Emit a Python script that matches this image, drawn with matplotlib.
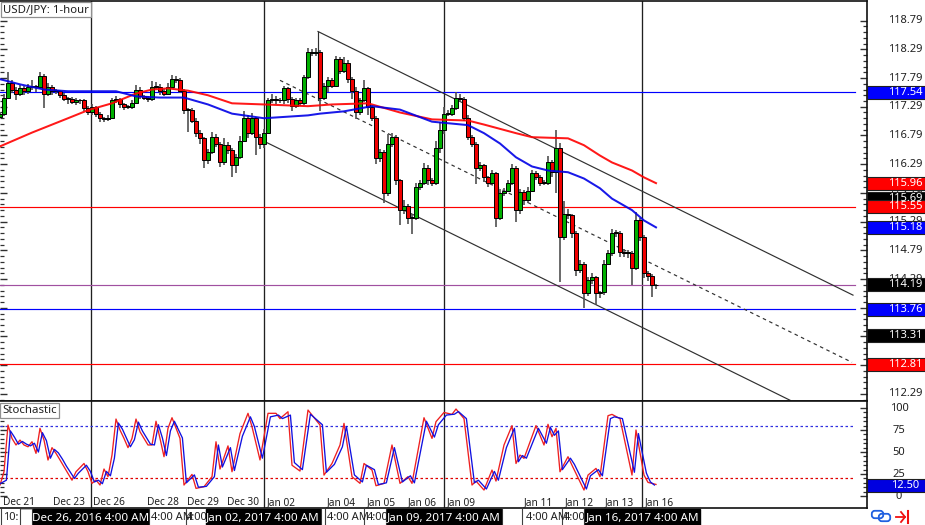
import matplotlib
matplotlib.use("Agg")
import matplotlib.pyplot as plt
import numpy as np
from matplotlib.patches import Rectangle, FancyBboxPatch

plt.rcParams['font.family'] = ['Noto Sans', 'DejaVu Sans']

W, H = 925, 525
PX = 4.0  # pixels per bar

closes = [117.17,117.45,117.70,117.59,117.52,117.61,117.56,117.64,117.63,117.63,
 117.82,117.52,117.64,117.56,117.56,117.49,117.43,117.42,117.38,117.40,
 117.40,117.26,117.19,117.28,117.17,117.09,117.07,117.10,117.40,117.42,
 117.33,117.28,117.28,117.36,117.59,117.47,117.45,117.42,117.64,117.64,
 117.56,117.52,117.64,117.78,117.75,117.57,117.23,117.23,117.05,116.83,
 116.74,116.36,116.50,116.76,116.65,116.32,116.62,116.53,116.27,116.41,
 116.70,117.10,116.83,117.09,116.76,116.65,116.84,117.40,117.43,117.40,
 117.40,117.61,117.43,117.31,117.40,117.35,117.80,118.24,118.22,118.24,
 117.45,117.66,117.75,117.66,118.13,117.92,118.06,117.78,117.57,117.19,
 117.40,117.61,117.28,117.10,116.39,116.50,115.78,116.65,116.76,116.01,
 115.49,115.57,115.36,115.36,115.89,115.96,116.23,116.01,115.97,116.58,
 116.88,117.17,117.17,117.26,117.45,117.43,117.10,116.76,116.65,116.23,
 116.27,116.06,115.96,116.13,115.36,115.78,115.83,115.96,116.22,115.49,
 115.80,115.66,115.83,116.13,116.06,115.97,115.96,116.32,116.15,116.58,
 115.02,115.43,115.40,115.09,114.44,114.56,114.04,114.27,114.32,114.04,
 114.06,114.56,114.74,115.10,115.09,114.76,114.74,114.74,114.49,115.31,
 115.02,114.39,114.35,114.18,114.18]
upper_pips = [3,6,19,5,4,6,4,5,12,4, 7,4,6,3,4,3,4,3,4,5, 3,3,4,5,3,3,3,4,5,6,
 3,3,4,5,8,4,3,3,10,8, 4,4,6,7,5,4,3,4,3,4, 5,3,5,9,5,3,12,5,4,5,
 8,12,5,9,3,5,6,5,9,4, 5,5,3,3,5,4,5,8,6,8, 3,5,6,4,5,3,9,5,3,6,
 5,14,3,4,3,5,3,17,8,3, 3,10,3,6,7,5,8,5,4,12, 14,12,6,6,9,6,3,4,3,3,
 5,3,3,6,3,8,5,6,7,3, 5,4,6,6,5,4,5,12,4,30, 8,22,8,3,3,7,3,5,8,3,
 3,6,5,7,4,3,5,5,3,14, 5,3,4,3,3]
lower_pips = [3,4,3,6,12,5,6,4,4,8, 3,26,4,6,5,5,4,8,5,6, 6,4,5,4,5,6,4,3,3,4,
 6,4,3,3,3,5,5,4,3,4, 6,5,3,3,4,4,6,38,5,6, 9,14,6,3,6,8,4,6,21,14,
 3,3,8,4,31,9,8,3,5,7, 5,6,8,9,4,5,3,3,5,4, 23,4,12,5,3,6,5,8,14,12,
 4,3,14,5,9,6,17,4,6,8, 26,6,12,28,4,5,3,8,6,5, 10,6,4,4,3,4,5,5,6,28,
 6,8,6,4,17,5,4,3,3,21, 6,8,5,3,5,6,4,3,8,36, 78,5,6,8,10,4,26,5,6,21,
 8,4,3,4,6,8,7,9,31,4, 7,8,9,21,6]

ma_red_bars = [0,8,17,22,28,34,38,42,47,52,58,66,77,83,92,100,108,117,121,129,133,142,146,150,153,158,161,164]
ma_red = [116.60,116.84,117.09,117.23,117.35,117.52,117.59,117.61,117.57,117.49,117.35,117.33,
          117.30,117.33,117.35,117.19,117.07,117.05,116.98,116.83,116.76,116.74,116.62,116.44,116.32,116.18,116.06,115.96]
ma_blue_bars = [0,5,11,17,29,34,40,46,52,58,66,77,80,86,93,100,108,117,121,125,129,133,137,142,146,150,153,158,161,164]
ma_blue = [117.77,117.68,117.59,117.56,117.56,117.47,117.45,117.45,117.33,117.17,117.09,117.14,
           117.17,117.21,117.30,117.24,117.03,116.97,116.83,116.65,116.41,116.25,116.18,116.15,116.04,115.87,115.69,115.49,115.31,115.19]

level_values = [117.54, 115.55, 114.19, 113.76, 112.81]
level_colors = ['#0000ff', '#ff0000', '#a050a0', '#0000ff', '#ff0000']

vline_bars = [22.75, 66, 111, 160.5]

channel_upper = ([79.5, 213.25], [118.60, 114.01])
channel_lower = ([66, 197.5], [116.69, 112.18])
channel_mid = ([70, 213], [117.75, 112.84])
anchor = ([79.5, 79.5], [118.60, 117.40])

stoch_red_bars = [0,1,2,3,4,5,6,7,8,9,10,11,12,13,14,15,16,18,19,21,22,23,24,25,26,27,28,29,30,31,32,33,
 34,35,37,38,39,40,41,42,43,45,46,48,49,51,53,54,55,57,58,60,62,63,65,67,69,70,72,73,75,77,80,81,83,85,86,
 88,90,91,93,94,96,98,100,102,103,106,108,109,111,113,114,116,118,119,121,123,124,126,128,129,130,131,134,136,
 137,138,139,140,142,143,146,147,149,150,152,153,155,158,159,161,162,164]
stoch_red = [12.5,27.6,80.7,65.5,58,63.6,58,56,61.7,48.5,76.9,63.6,40.9,55,48.5,41,33.3,18,27.6,37,27.6,14.4,18.2,12.5,30.7,22,46.6,87.5,75,65.5,55,65.5,
 87.5,73,58,58,85,65.5,44.7,77,89,65.5,12.5,24.6,8.7,10.6,22,61.7,30.7,57,27.6,71,94,78.8,41,94,94,88,95.8,35,28.4,97.7,80.7,23.8,37,58,82.6,
 22,14.4,37,29.5,11.7,14.4,58,14.4,22,14.4,89,65.5,84.5,95,92.8,98.9,88,12.5,17,6.8,29.5,17,58,80,37,46.6,42.8,80,58,
 81.5,67.4,76.9,27.6,44.7,35,6.8,23.8,31.4,22,91.3,92.8,88,23.8,75,23.8,15.5,13.2]
stoch_blue_bars = [0,2,3,4,5,6,7,8,9,10,11,12,13,14,15,16,17,19,20,22,23,24,25,26,27,28,29,30,31,32,33,34,
 35,36,38,39,40,41,42,43,44,46,47,49,50,52,54,55,56,58,59,61,63,64,66,68,70,71,73,74,76,78,81,82,84,86,87,
 89,91,92,94,95,97,99,101,103,104,107,109,110,112,114,115,117,119,120,122,124,125,127,129,130,131,132,135,137,
 138,139,140,141,143,144,147,148,150,151,153,154,156,159,160,162,163,164]
stoch_blue = [13,18,74,67,59,62,59,57,60,50,72,63,43,53,49,42,34,20,26,35,28,16,18,14,28,23,43,83,76,66,56,64,
 84,74,59,58,81,66,46,74,85,66,15,24,10,11,22,58,33,55,29,68,90,79,43,90,92,88,92,38,30,93,81,27,36,56,79,
 24,16,35,30,13,15,55,16,23,15,85,67,81,92,93,96,88,15,18,8,28,18,55,77,39,46,43,77,60,
 78,69,74,30,43,36,8,23,30,23,88,90,88,27,71,26,16,12.5]
stoch_levels = [80, 20]
stoch_level_colors = ['#3030e0', '#e00000']

price_ticks = [118.79,118.29,117.79,117.29,116.79,116.29,115.79,115.29,114.79,114.29,112.29]
stoch_ticks = [100,75,50,25,0]

price_tags = [(117.54,'#0000ff','117.54'),(115.96,'#ff0000','115.96'),(115.69,'#000000','115.69'),
              (115.55,'#ff0000','115.55'),(115.18,'#0000ff','115.18'),(114.19,'#000000','114.19'),
              (113.76,'#0000ff','113.76'),(113.31,'#000000','113.31'),(112.81,'#ff0000','112.81')]

date_labels = ['Dec 21','Dec 23','Dec 26','Dec 28','Dec 29','Dec 30','Jan 02','Jan 04','Jan 05','Jan 06',
               'Jan 09','Jan 11','Jan 12','Jan 13','Jan 16']
date_x_px = [3,53,93,147,187,227,267,327,367,408,447,524,565,605,645]

time_black = [('Dec 26, 2016 4:00 AM',33,148),('Jan 02, 2017 4:00 AM',206,320),
              ('Jan 09, 2017 4:00 AM',387,501),('Jan 16, 2017 4:00 AM',585,700)]
time_plain = [('10:',3),('4:00 AM',151),('4:00',186),('4:00 AM',327),('4:00',367),('4:00 AM',526),('4:00',564)]
time_seps = [1,20,32,149,186,321,325,364,386,502,522,562,584]


def rect(x0, y0, x1, y1):
    return [x0 / W, 1 - y1 / H, (x1 - x0) / W, (y1 - y0) / H]


fig = plt.figure(figsize=(W / 100, H / 100), dpi=100, facecolor='white')
ax = fig.add_axes(rect(0, 0.5, 867, 401))
st = fig.add_axes(rect(0, 401, 867, 508))
gp = fig.add_axes(rect(867, 0.5, 925, 401))
gs = fig.add_axes(rect(867, 401, 925, 508))
bt = fig.add_axes(rect(0, 508, 925, 525))

xlim = (0, 867 / PX)
price_lim = (119.14 - 401 * 0.01739, 119.14)
stoch_lim = (-13.6, 108)

# candles
opens = [closes[0] - 0.05] + closes[:-1]
for i, (o, c, u, l) in enumerate(zip(opens, closes, upper_pips, lower_pips)):
    top, bot = max(o, c), min(o, c)
    ax.plot([i, i], [bot - l / 100, top + u / 100], color='#505050', lw=1.2, zorder=3, solid_capstyle='butt')
    ax.bar(i, max(top - bot, 0.015), bottom=bot, width=0.85,
           color='#00b000' if c >= o else '#f00000', edgecolor='black', linewidth=0.7, zorder=4)

ax.plot(ma_red_bars, ma_red, color='#ff0000', lw=1.45, zorder=5, alpha=0.9)
ax.plot(ma_blue_bars, ma_blue, color='#0000e6', lw=1.45, zorder=5, alpha=0.9)

for v, c in zip(level_values, level_colors):
    ax.plot([0, 855 / PX], [v, v], color=c, lw=0.85, zorder=2)

for line in (channel_upper, channel_lower, anchor):
    ax.plot(*line, color='#303030', lw=0.85, zorder=2)
ax.plot(*channel_mid, color='#303030', lw=0.85, ls=(0, (3, 3)), zorder=2)

for a in (ax, st):
    for b in vline_bars:
        a.axvline(b, color='#202020', lw=0.95, zorder=1)

# stochastic
st.plot(stoch_red_bars, stoch_red, color='#ee2020', lw=0.95, zorder=3)
st.plot(np.array(stoch_blue_bars) - 0.4, stoch_blue, color='#1010e0', lw=0.95, zorder=4)
for v, c in zip(stoch_levels, stoch_level_colors):
    st.plot([0, 855 / PX], [v, v], color=c, lw=0.9, ls=(0, (2, 2)), zorder=2)

ax.set_yticks([118.79 - 0.5 * k for k in range(14)])
ax.set_yticks([118.79 - 0.1 * k for k in range(67)], minor=True)
st.set_yticks([100 - 25 * k for k in range(5)])
st.set_yticks([100 - 5 * k for k in range(21)], minor=True)
ax.set_xlim(xlim); st.set_xlim(xlim)
ax.set_ylim(price_lim); st.set_ylim(stoch_lim)

for a in (ax, st):
    a.set_xticks([])
    for s in a.spines.values():
        s.set_color('#101010'); s.set_linewidth(1.2)
    a.spines['left'].set_visible(False)
    a.tick_params(axis='y', which='both', labelleft=False, labelright=False, left=True, right=True,
                  direction='in', color='#303030')
    a.tick_params(axis='y', which='major', length=5, width=1.0)
    a.tick_params(axis='y', which='minor', length=3, width=0.9)

# gutters
for g in (gp, gs, bt):
    g.set_xticks([]); g.set_yticks([])
    for s in g.spines.values():
        s.set_visible(False)
    g.patch.set_alpha(0)
gp.set_xlim(867, 925); gs.set_xlim(867, 925)
gp.set_ylim(price_lim); gs.set_ylim(stoch_lim)

for v in price_ticks:
    gp.text(905, v, f'{v:.2f}', ha='center', va='center', fontsize=8, color='#202020')
for v in stoch_ticks:
    gs.text(899, v, f'{v}', ha='center', va='center', fontsize=8, color='#202020')


def tag(g, v, color, label, h):
    g.add_patch(Rectangle((867, v - h / 2), 58, h, facecolor=color, edgecolor='#202020', lw=0.8, zorder=5, clip_on=False))
    g.text(905, v, label, ha='center', va='center', fontsize=8, color='white', zorder=6)


for v, c, lab in price_tags:
    tag(gp, v, c, lab, 13 * 0.01739)
tag(gs, 12.5, '#0000e0', '12.50', 13 / 0.88)

# boxed captions
ax.text(0.7, 119.14 - 9 * 0.01739, 'USD/JPY: 1-hour', fontsize=8.2, va='center', ha='left', zorder=8,
        color='#202020', bbox=dict(boxstyle='square,pad=0.18', fc='white', ec='#909090', lw=0.9))
st.text(0.5, 97.5, 'Stochastic', fontsize=8.2, va='center', ha='left', zorder=8, color='#202020',
        bbox=dict(boxstyle='square,pad=0.18', fc='white', ec='#909090', lw=0.9))

for lab, x in zip(date_labels, date_x_px):
    st.text(x / PX, -7, lab, fontsize=7.3, va='center', ha='left', color='#202020', zorder=6)

# bottom time strip
bt.set_xlim(0, W); bt.set_ylim(H, 508)
for x in time_seps:
    bt.plot([x, x], [509, 525], color='#404040', lw=0.8)
bt.add_patch(Rectangle((20, 509), 12, 16, fc='white', ec='#a0a0a0', lw=0.6))
for lab, x in time_plain:
    bt.text(x, 518, lab, fontsize=8, va='center', ha='left', color='#202020')
for lab, x0, x1 in time_black:
    bt.add_patch(Rectangle((x0, 508.5), x1 - x0, 16.5, fc='black', ec='black', zorder=3))
    bt.text((x0 + x1) / 2, 518, lab, fontsize=8.4, va='center', ha='center', color='white', zorder=4)

# status icons
bt.add_patch(FancyBboxPatch((873, 512), 9, 5, boxstyle='round,pad=1.2,rounding_size=3', fc='none', ec='#2060e0', lw=1.3))
bt.add_patch(FancyBboxPatch((880, 515), 9, 5, boxstyle='round,pad=1.2,rounding_size=3', fc='none', ec='#2060e0', lw=1.3))
bt.plot([896, 905], [517, 517], color='#f01010', lw=1.3)
bt.plot([901, 905, 901], [512, 517, 522], color='#f01010', lw=1.3)
bt.plot([908, 908], [511, 523], color='#f01010', lw=1.5)

fig.savefig('out.png', dpi=100, facecolor='white')
